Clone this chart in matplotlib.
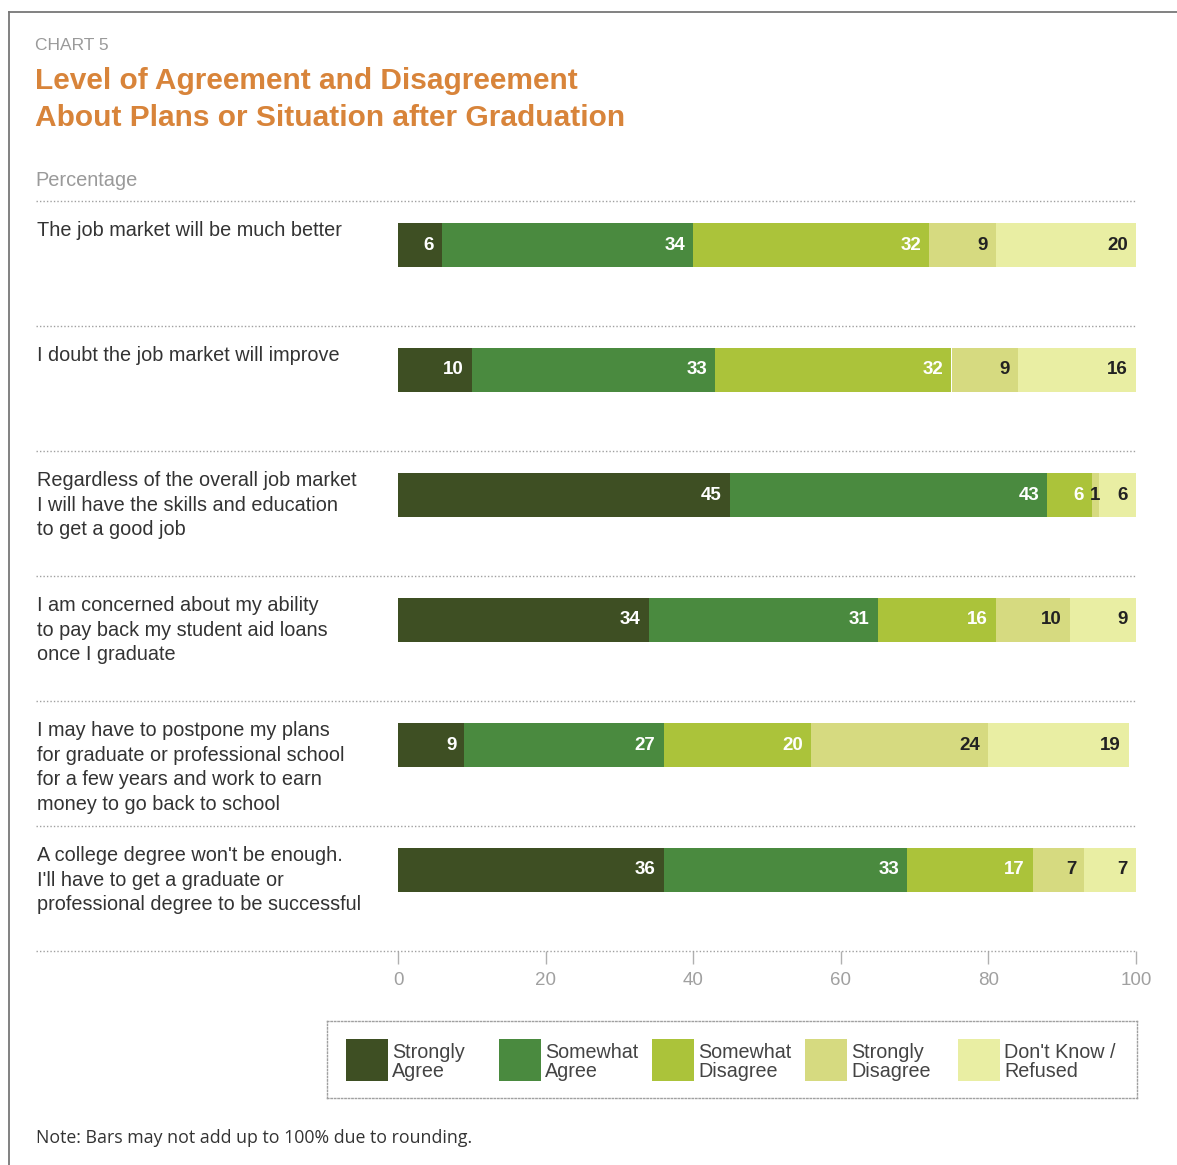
import matplotlib
matplotlib.use("Agg")
import matplotlib.pyplot as plt
from matplotlib import font_manager
from matplotlib.lines import Line2D
from matplotlib.patches import Rectangle

W, H = 1177, 1165

statements = [
    "The job market will be much better",
    "I doubt the job market will improve",
    "Regardless of the overall job market\nI will have the skills and education\nto get a good job",
    "I am concerned about my ability\nto pay back my student aid loans\nonce I graduate",
    "I may have to postpone my plans\nfor graduate or professional school\nfor a few years and work to earn\nmoney to go back to school",
    "A college degree won't be enough.\nI'll have to get a graduate or\nprofessional degree to be successful",
]
categories = ["Strongly\nAgree", "Somewhat\nAgree", "Somewhat\nDisagree",
              "Strongly\nDisagree", "Don't Know /\nRefused"]
strongly_agree = [6, 10, 45, 34, 9, 36]
somewhat_agree = [34, 33, 43, 31, 27, 33]
somewhat_disagree = [32, 32, 6, 16, 20, 17]
strongly_disagree = [9, 9, 1, 10, 24, 7]
dont_know = [20, 16, 6, 9, 19, 7]
ticks = [0, 20, 40, 60, 80, 100]

series = [strongly_agree, somewhat_agree, somewhat_disagree, strongly_disagree, dont_know]
colors = ["#3e4f23", "#4a8a3f", "#abc33a", "#d6da80", "#e9eea3"]
text_colors = ["white", "white", "white", "#222222", "#222222"]

plt.rcParams["font.family"] = ["Liberation Sans", "DejaVu Sans"]

# condensed face for the numbers inside the bars, if we have one
installed = {f.name for f in font_manager.fontManager.ttflist}
num_font = "Liberation Sans Narrow" if "Liberation Sans Narrow" in installed else "Liberation Sans"
num_size = 15 if num_font.endswith("Narrow") else 13.5

fig = plt.figure(figsize=(W / 100, H / 100), dpi=100)


def fx(px):
    return px / W


def fy(py):
    return 1 - py / H


# frame lines on the left and top
fig.add_artist(Line2D([fx(8.5), fx(8.5)], [0, fy(12)], color="#777777", lw=1.3))
fig.add_artist(Line2D([fx(8.5), 1], [fy(12), fy(12)], color="#777777", lw=1.3))

fig.text(fx(35), fy(46), "CHART 5", fontsize=12.5, color="#9a9a9a", va="center")
fig.text(fx(35), fy(81), "Level of Agreement and Disagreement", fontsize=21.5,
         fontweight="bold", color="#d8843a", va="center")
fig.text(fx(35), fy(118), "About Plans or Situation after Graduation", fontsize=21.5,
         fontweight="bold", color="#d8843a", va="center")
fig.text(fx(35), fy(180), "Percentage", fontsize=14.4, color="#9a9a9a", va="center")

x0, x1 = 398, 1136
y0, y1 = 201, 951
ax = fig.add_axes([fx(x0), fy(y1), fx(x1) - fx(x0), fy(y0) - fy(y1)])
ax.set_xlim(0, 100)
ax.set_ylim(len(statements), 0)

bar_h = 0.352
centers = [i + 0.176 + bar_h / 2 for i in range(len(statements))]
left = [0] * len(statements)
for vals, col, tcol in zip(series, colors, text_colors):
    ax.barh(centers, vals, left=left, height=bar_h, color=col, edgecolor="none")
    for c, l, v in zip(centers, left, vals):
        end = min(l + v, 100)
        if v < 3:
            # too thin for a right-aligned label, centre it instead
            xt, ha = (l + end) / 2, "center"
        else:
            xt, ha = end - 1.1, "right"
        ax.text(xt, c, str(v), ha=ha, va="center", fontsize=num_size,
                fontweight="bold", color=tcol, family=num_font)
    left = [l + v for l, v in zip(left, vals)]

# dotted row separators, stretched under the statement labels
lab_x = (36 - x0) / (x1 - x0) * 100
for k in range(len(statements) + 1):
    ax.plot([lab_x, 100], [k, k], color="#a0a0a0", lw=1.0,
            linestyle=(0, (1, 1.5)), clip_on=False)

for i, s in enumerate(statements):
    ax.text(lab_x + 0.1, i + 0.16, s, ha="left", va="top", fontsize=14.3,
            color="#333333", linespacing=1.37, clip_on=False)

for sp in ax.spines.values():
    sp.set_visible(False)
ax.set_yticks([])
ax.set_xticks(ticks)
ax.tick_params(axis="x", length=9, width=1, color="#b0b0b0", labelcolor="#a0a0a0",
               labelsize=13.5, pad=6)

# legend box
lx0, lx1, ly0, ly1 = 327, 1137, 1021, 1098
lax = fig.add_axes([fx(lx0), fy(ly1), fx(lx1) - fx(lx0), fy(ly0) - fy(ly1)])
lax.set_xlim(lx0, lx1)
lax.set_ylim(ly1, ly0)
lax.set_xticks([])
lax.set_yticks([])
for sp in lax.spines.values():
    sp.set_linestyle((0, (1, 1.5)))
    sp.set_color("#a0a0a0")
    sp.set_linewidth(1.0)
for k, (name, col) in enumerate(zip(categories, colors)):
    px = 346 + 153 * k
    lax.add_patch(Rectangle((px, 1039), 42, 42, facecolor=col, edgecolor="none"))
    lax.text(px + 46, 1062, name, ha="left", va="center", fontsize=14.2,
             color="#444444", linespacing=1.02)

fig.text(fx(36), fy(1138), "Note: Bars may not add up to 100% due to rounding.",
         fontsize=12.8, color="#333333", va="center", family=["Open Sans", "DejaVu Sans"])

fig.savefig("out.png", dpi=100, facecolor="white")
